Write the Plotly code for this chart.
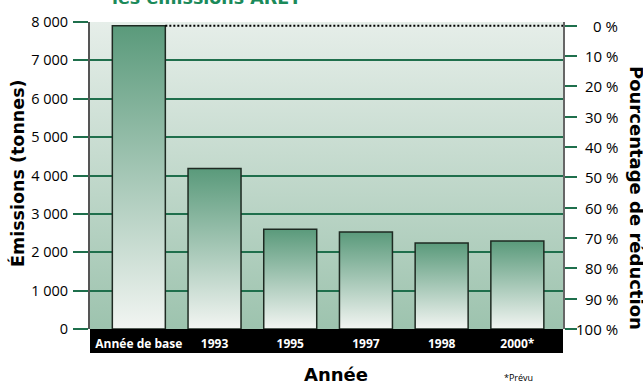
import base64
import plotly.graph_objects as go

# ---- data -------------------------------------------------------------
categories = ["Année de base", "1993", "1995", "1997", "1998", "2000*"]
emissions = [7900, 4180, 2600, 2530, 2240, 2290]          # tonnes
emission_ticks = [0, 1000, 2000, 3000, 4000, 5000, 6000, 7000, 8000]
emission_tick_text = ["0", "1 000", "2 000", "3 000", "4 000",
                      "5 000", "6 000", "7 000", "8 000"]
reduction_ticks = [0, 10, 20, 30, 40, 50, 60, 70, 80, 90, 100]  # %

# ---- styling ----------------------------------------------------------
GREEN = "#1f6f4c"
TITLE_FONT = "DejaVu Sans"
TICK_FONT = "Open Sans"
BAR_HALF = 0.35
X_RANGE = [-0.645, 5.603]
Y_MAX = 8000

base = emissions[0]
# reduction axis: 0 % at the base-year level, 100 % at zero emissions
y2_range = [100, (1 - Y_MAX / base) * 100]

fig = go.Figure()

# plot-area background: light at the top, greener towards the bottom
bg_svg = (
    '<svg xmlns="http://www.w3.org/2000/svg" width="10" height="100" '
    'preserveAspectRatio="none"><defs><linearGradient id="g" x1="0" y1="0" '
    'x2="0" y2="1"><stop offset="0" stop-color="#e6eee9"/>'
    '<stop offset="1" stop-color="#9dc3ae"/></linearGradient></defs>'
    '<rect width="10" height="100" fill="url(#g)"/></svg>'
)
bg_src = "data:image/svg+xml;base64," + base64.b64encode(bg_svg.encode()).decode()

# bars with a vertical gradient (dark green top, nearly white at the base)
for i, v in enumerate(emissions):
    fig.add_trace(go.Scatter(
        x=[i - BAR_HALF, i - BAR_HALF, i + BAR_HALF, i + BAR_HALF, i - BAR_HALF],
        y=[0, v, v, 0, 0],
        mode="lines",
        fill="toself",
        fillgradient=dict(type="vertical",
                          colorscale=[[0, "#f2f5f2"], [1, "#5a9a7b"]]),
        line=dict(color="#1e2a22", width=1.5),
        hoverinfo="skip",
        showlegend=False,
    ))

# dotted reference line at the base-year level
fig.add_trace(go.Scatter(
    x=[BAR_HALF, X_RANGE[1]], y=[base, base],
    mode="lines",
    line=dict(color="black", width=2, dash="2px,2px"),
    hoverinfo="skip", showlegend=False,
))

fig.update_layout(
    width=643, height=383,
    margin=dict(l=90, r=80, t=22, b=54),
    paper_bgcolor="white",
    plot_bgcolor="rgba(0,0,0,0)",
    showlegend=False,
    images=[dict(source=bg_src, xref="paper", yref="paper", x=0, y=1,
                 sizex=1, sizey=1, sizing="stretch", xanchor="left",
                 yanchor="top", layer="below")],
    xaxis=dict(
        range=X_RANGE, tickmode="array",
        tickvals=list(range(len(categories))), ticktext=categories,
        showgrid=False, zeroline=False, showline=False, ticks="",
        tickfont=dict(family=TICK_FONT, size=12, color="white", weight="bold"),
        ticklabelstandoff=6,
    ),
    yaxis=dict(
        range=[0, Y_MAX], tickmode="array",
        tickvals=emission_ticks, ticktext=emission_tick_text,
        showgrid=True, gridcolor=GREEN, gridwidth=1.5,
        zeroline=False,
        showline=True, linecolor="#555555", linewidth=2,
        ticks="outside", ticklen=15, tickcolor=GREEN, tickwidth=1.5,
        tickfont=dict(family=TICK_FONT, size=14.5, color="black"),
        ticklabelstandoff=2,
    ),
    yaxis2=dict(
        overlaying="y", side="right", anchor="x",
        range=y2_range, tickmode="array", tickvals=reduction_ticks,
        showgrid=False, zeroline=False,
        showline=True, linecolor="#666666", linewidth=2,
        ticks="outside", ticklen=12, tickcolor=GREEN, tickwidth=1.5,
        showticklabels=False,
    ),
    shapes=[
        # black band carrying the year labels
        dict(type="rect", xref="paper", yref="paper", x0=0, x1=1,
             y0=-0.0782, y1=0, fillcolor="black", line=dict(width=0),
             layer="below"),
    ],
)

# right-hand percentage labels, right-aligned
plot_w = 643 - 90 - 80
for p in reduction_ticks:
    fig.add_annotation(
        x=(620 - 90) / plot_w, xref="paper", xanchor="right",
        y=p, yref="y2", yanchor="middle",
        text=f"{p} %", showarrow=False,
        font=dict(family=TICK_FONT, size=15, color="black"),
    )

plot_h = 383 - 22 - 54
def px_x(px):
    return (px - 90) / plot_w

def px_y(px):
    return (329 - px) / plot_h

def label(text, x, y, size, family=TITLE_FONT, angle=0, color="black",
          weight="bold", yanchor="middle"):
    fig.add_annotation(
        x=px_x(x), y=px_y(y), xref="paper", yref="paper",
        xanchor="center", yanchor=yanchor,
        text=text, textangle=angle, showarrow=False,
        font=dict(family=family, size=size, color=color, weight=weight),
    )

label("Émissions (tonnes)", 17, 173, 17.5, angle=-90)
label("Pourcentage de réduction", 637, 198, 18, angle=90)
label("Année", 336, 374, 18)
label("*Prévu", 518, 377, 9, family=TICK_FONT, weight="normal")
label("les émissions ARET", 206, 10, 17.5, color="#1b8a5a", yanchor="bottom")

fig.write_html("out.html")
